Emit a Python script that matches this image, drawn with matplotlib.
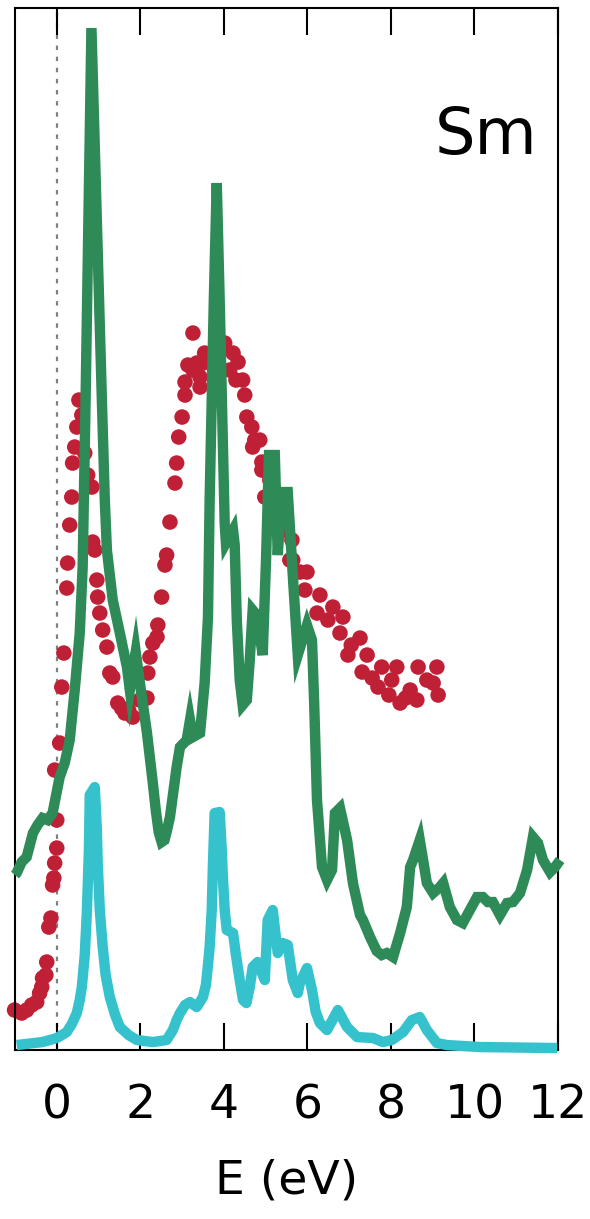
import numpy as np
import matplotlib
matplotlib.use('Agg')
import matplotlib.pyplot as plt

# experiment (red dots)
exp_E = [-1.01, -0.84, -0.72, -0.60, -0.48, -0.41, -0.36, -0.34, -0.26, -0.24,
         -0.19, -0.14, -0.10, -0.07, -0.05, 0.00, 0.00, -0.05, 0.07, 0.12,
         0.17, 0.24, 0.26, 0.31, 0.36, 0.38, 0.43, 0.48, 0.53, 0.60,
         0.67, 0.74, 0.84, 0.86, 0.91, 0.96, 0.98, 1.03, 1.10, 1.20,
         1.27, 1.34, 1.46, 1.63, 1.82, 1.99, 2.16, 2.18, 2.23, 2.30,
         2.40, 2.42, 2.51, 2.59, 2.63, 2.71, 2.83, 2.87, 2.92, 3.00,
         3.07, 3.07, 3.14, 3.26, 3.26, 3.35, 3.43, 3.50, 3.54, 3.43,
         3.66, 3.78, 3.95, 4.02, 4.14, 4.22, 4.29, 4.34, 4.45, 4.50,
         4.55, 4.67, 4.74, 4.86, 4.69, 4.91, 4.91, 4.98, 5.10, 5.29,
         5.46, 5.63, 5.58, 5.65, 5.82, 5.99, 5.94, 6.30, 6.23, 6.61,
         6.49, 6.85, 6.78, 7.26, 6.97, 7.43, 7.31, 7.78, 7.69, 8.14,
         8.02, 8.22, 8.46, 8.62, 8.65, 9.10, 8.86, 9.01, 9.13, 1.55,
         1.72, 7.05, 7.55, 7.95, 8.35]
exp_I = [0.40, 0.37, 0.40, 0.45, 0.48, 0.57, 0.63, 0.72, 0.75, 0.88,
         1.23, 1.32, 1.65, 1.72, 1.87, 2.02, 2.30, 2.80, 3.07, 3.63,
         3.97, 4.62, 4.87, 5.25, 5.53, 5.87, 6.03, 6.23, 6.50, 6.35,
         5.97, 5.75, 5.63, 5.08, 5.00, 4.70, 4.53, 4.37, 4.20, 4.03,
         3.77, 3.73, 3.47, 3.37, 3.33, 3.50, 3.52, 3.77, 3.93, 4.07,
         4.13, 4.25, 4.53, 4.85, 4.95, 5.28, 5.67, 5.87, 6.13, 6.33,
         6.55, 6.68, 6.85, 7.17, 6.80, 6.87, 6.63, 6.87, 6.97, 6.73,
         6.90, 6.80, 7.07, 7.07, 6.80, 6.97, 6.70, 6.88, 6.70, 6.55,
         6.33, 6.23, 6.10, 6.10, 6.03, 5.88, 5.80, 5.53, 5.70, 5.35,
         5.20, 5.10, 4.90, 4.90, 4.78, 4.78, 4.60, 4.55, 4.37, 4.43,
         4.30, 4.33, 4.17, 4.12, 3.95, 3.95, 3.78, 3.83, 3.63, 3.83,
         3.70, 3.47, 3.60, 3.50, 3.83, 3.83, 3.70, 3.67, 3.55, 3.42,
         3.40, 4.05, 3.72, 3.55, 3.52]

# total calculated spectrum (green)
tot_E = [-1.00, -0.96, -0.84, -0.72, -0.57, -0.46, -0.34, -0.22, -0.10, 0.07,
         0.19, 0.31, 0.43, 0.55, 0.62, 0.69, 0.83, 1.08, 1.15, 1.20,
         1.34, 1.51, 1.68, 1.75, 1.89, 1.99, 2.16, 2.30, 2.37, 2.44,
         2.51, 2.58, 2.64, 2.71, 2.87, 2.95, 3.11, 3.19, 3.26, 3.43,
         3.54, 3.62, 3.66, 3.76, 3.83, 3.90, 3.98, 4.02, 4.05, 4.22,
         4.26, 4.31, 4.38, 4.45, 4.55, 4.62, 4.69, 4.79, 4.93, 5.01,
         5.08, 5.22, 5.29, 5.39, 5.53, 5.65, 5.77, 5.99, 6.11, 6.16,
         6.23, 6.35, 6.47, 6.59, 6.66, 6.78, 6.95, 7.09, 7.26, 7.33,
         7.50, 7.66, 7.78, 7.90, 8.05, 8.22, 8.38, 8.46, 8.53, 8.69,
         8.77, 8.86, 9.01, 9.17, 9.25, 9.41, 9.58, 9.72, 9.89, 10.06,
         10.20, 10.32, 10.44, 10.61, 10.78, 10.92, 11.09, 11.26, 11.40, 11.52,
         11.64, 11.81, 11.93, 12.05]
tot_I = [1.75, 1.77, 1.88, 1.93, 2.17, 2.25, 2.32, 2.30, 2.37, 2.73,
         2.87, 3.10, 3.60, 4.17, 4.83, 6.50, 10.22, 6.50, 5.50, 5.00,
         4.50, 4.17, 3.83, 3.60, 3.98, 3.67, 3.17, 2.67, 2.40, 2.18,
         2.08, 2.10, 2.20, 2.33, 2.83, 3.03, 3.10, 3.30, 3.13, 3.17,
         3.67, 4.33, 5.50, 7.50, 8.67, 7.50, 6.00, 5.27, 5.07, 5.20,
         5.05, 4.30, 3.70, 3.45, 3.50, 3.90, 4.40, 4.35, 3.95, 4.90,
         5.95, 5.95, 4.95, 5.58, 5.58, 4.75, 3.95, 4.25, 4.10, 3.50,
         2.50, 1.83, 1.70, 1.80, 2.37, 2.42, 2.10, 1.67, 1.35, 1.30,
         1.13, 0.99, 0.95, 0.97, 0.93, 1.17, 1.43, 1.83, 1.90, 2.10,
         1.90, 1.67, 1.57, 1.63, 1.67, 1.43, 1.30, 1.27, 1.40, 1.53,
         1.53, 1.48, 1.48, 1.35, 1.47, 1.48, 1.57, 1.80, 2.13, 2.07,
         1.90, 1.78, 1.83, 1.90]

# 4f partial spectrum (cyan)
f_E = [-0.96, -0.34, 0.00, 0.24, 0.36, 0.48, 0.55, 0.60, 0.67, 0.72,
       0.77, 0.79, 0.91, 0.96, 0.98, 1.03, 1.10, 1.17, 1.27, 1.39,
       1.51, 1.72, 1.92, 2.30, 2.63, 2.78, 2.87, 2.95, 3.07, 3.19,
       3.35, 3.50, 3.57, 3.62, 3.66, 3.71, 3.74, 3.78, 3.90, 3.95,
       3.98, 4.02, 4.07, 4.22, 4.29, 4.38, 4.46, 4.54, 4.62, 4.69,
       4.81, 4.98, 5.05, 5.17, 5.29, 5.41, 5.53, 5.65, 5.77, 5.82,
       5.99, 6.11, 6.20, 6.30, 6.47, 6.60, 6.73, 6.95, 7.19, 7.57,
       7.81, 8.02, 8.29, 8.50, 8.69, 8.86, 9.10, 9.34, 10.13, 11.98]
f_I = [0.05, 0.08, 0.12, 0.18, 0.26, 0.37, 0.50, 0.63, 0.95, 1.37,
       2.00, 2.55, 2.63, 2.20, 1.87, 1.40, 1.03, 0.75, 0.53, 0.36,
       0.23, 0.15, 0.10, 0.08, 0.10, 0.20, 0.30, 0.37, 0.45, 0.48,
       0.43, 0.53, 0.65, 0.85, 1.03, 1.40, 1.87, 2.37, 2.38, 2.00,
       1.70, 1.40, 1.20, 1.17, 0.95, 0.70, 0.50, 0.47, 0.63, 0.83,
       0.88, 0.70, 1.30, 1.40, 0.97, 1.07, 1.05, 0.70, 0.57, 0.67,
       0.82, 0.60, 0.38, 0.27, 0.20, 0.30, 0.40, 0.23, 0.13, 0.12,
       0.08, 0.10, 0.18, 0.30, 0.33, 0.20, 0.07, 0.05, 0.03, 0.02]

xticks = [0, 2, 4, 6, 8, 10, 12]

fig = plt.figure(figsize=(5.9, 12.19), dpi=100)
ax = fig.add_axes([0.0254, 0.1386, 0.9204, 0.8548])

ax.axvline(0, color='#808080', ls=(0, (2, 3)), lw=1.6, zorder=1)
ax.scatter(exp_E, exp_I, s=125, color='#c02035', edgecolors='none',
           zorder=2, clip_on=False)
ax.plot(tot_E, tot_I, color='#2e8b57', lw=7.5, solid_joinstyle='miter',
        solid_capstyle='butt', zorder=3, clip_on=False)
ax.plot(f_E, f_I, color='#35c2cd', lw=7.5, solid_joinstyle='round',
        solid_capstyle='butt', zorder=4, clip_on=False)

ax.set_xlim(-1, 12)
ax.set_ylim(0, 10.42)
ax.set_xticks(xticks)
ax.set_yticks([])
ax.tick_params(axis='x', direction='in', top=True, length=19.5, width=1.5,
               labelsize=34, pad=24)
for s in ax.spines.values():
    s.set_linewidth(1.5)

ax.set_xlabel('E (eV)', fontsize=34, labelpad=22)
ax.text(0.962, 0.86, 'Sm', transform=ax.transAxes, ha='right', va='baseline',
        fontsize=46)

fig.savefig('out.png', dpi=100)
